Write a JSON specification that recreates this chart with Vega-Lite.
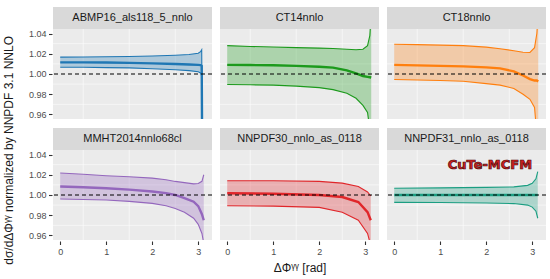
{
  "$schema": "https://vega.github.io/schema/vega-lite/v6.json",
  "padding": {"left": 3, "top": 6, "right": 5, "bottom": 4},
  "background": "white",
  "title": {"text": "dσ/dΔΦᵞᵞ normalized by NNPDF 3.1 NNLO", "orient": "left", "anchor": "middle", "fontSize": 12, "fontWeight": "normal", "color": "#1a1a1a", "offset": 12, "dx": -10},
  "data": {"values": [
    {"pdf":"ABMP16_als118_5_nnlo","x":0,"lo":1.0066,"c":1.0115,"hi":1.0167},
    {"pdf":"ABMP16_als118_5_nnlo","x":0.5,"lo":1.0066,"c":1.0115,"hi":1.0168},
    {"pdf":"ABMP16_als118_5_nnlo","x":1,"lo":1.0063,"c":1.0113,"hi":1.017},
    {"pdf":"ABMP16_als118_5_nnlo","x":1.5,"lo":1.006,"c":1.011,"hi":1.0172},
    {"pdf":"ABMP16_als118_5_nnlo","x":2,"lo":1.0052,"c":1.0105,"hi":1.0178},
    {"pdf":"ABMP16_als118_5_nnlo","x":2.5,"lo":1.0042,"c":1.0098,"hi":1.0185},
    {"pdf":"ABMP16_als118_5_nnlo","x":2.8,"lo":1.0033,"c":1.0093,"hi":1.0192},
    {"pdf":"ABMP16_als118_5_nnlo","x":3.0,"lo":1.0022,"c":1.009,"hi":1.0205},
    {"pdf":"ABMP16_als118_5_nnlo","x":3.05,"lo":1.001,"c":1.0088,"hi":1.022},
    {"pdf":"ABMP16_als118_5_nnlo","x":3.075,"lo":0.998,"c":1.008,"hi":1.024},
    {"pdf":"ABMP16_als118_5_nnlo","x":3.085,"lo":0.90,"c":0.93,"hi":0.96},
    {"pdf":"CT14nnlo","x":0,"lo":0.9896,"c":1.009,"hi":1.028},
    {"pdf":"CT14nnlo","x":0.5,"lo":0.9893,"c":1.0088,"hi":1.0272},
    {"pdf":"CT14nnlo","x":1,"lo":0.989,"c":1.0086,"hi":1.0266},
    {"pdf":"CT14nnlo","x":1.5,"lo":0.988,"c":1.008,"hi":1.026},
    {"pdf":"CT14nnlo","x":2,"lo":0.9865,"c":1.0072,"hi":1.0256},
    {"pdf":"CT14nnlo","x":2.3,"lo":0.9845,"c":1.0063,"hi":1.0252},
    {"pdf":"CT14nnlo","x":2.6,"lo":0.981,"c":1.0035,"hi":1.0245},
    {"pdf":"CT14nnlo","x":2.8,"lo":0.976,"c":1.0005,"hi":1.024},
    {"pdf":"CT14nnlo","x":2.95,"lo":0.969,"c":0.998,"hi":1.0245},
    {"pdf":"CT14nnlo","x":3.05,"lo":0.962,"c":0.9972,"hi":1.028},
    {"pdf":"CT14nnlo","x":3.1,"lo":0.945,"c":0.9968,"hi":1.038},
    {"pdf":"CT14nnlo","x":3.13,"lo":0.92,"c":0.9965,"hi":1.06},
    {"pdf":"CT18nnlo","x":0,"lo":0.9945,"c":1.009,"hi":1.0294},
    {"pdf":"CT18nnlo","x":0.5,"lo":0.994,"c":1.0085,"hi":1.029},
    {"pdf":"CT18nnlo","x":1,"lo":0.9935,"c":1.008,"hi":1.0285},
    {"pdf":"CT18nnlo","x":1.5,"lo":0.9928,"c":1.0075,"hi":1.028},
    {"pdf":"CT18nnlo","x":2,"lo":0.9905,"c":1.0065,"hi":1.0265},
    {"pdf":"CT18nnlo","x":2.3,"lo":0.989,"c":1.0055,"hi":1.025},
    {"pdf":"CT18nnlo","x":2.6,"lo":0.9857,"c":1.0026,"hi":1.023},
    {"pdf":"CT18nnlo","x":2.8,"lo":0.98,"c":0.9985,"hi":1.0215},
    {"pdf":"CT18nnlo","x":2.95,"lo":0.975,"c":0.995,"hi":1.0213},
    {"pdf":"CT18nnlo","x":3.05,"lo":0.967,"c":0.9935,"hi":1.026},
    {"pdf":"CT18nnlo","x":3.1,"lo":0.94,"c":0.9935,"hi":1.04},
    {"pdf":"CT18nnlo","x":3.13,"lo":0.90,"c":0.9925,"hi":1.06},
    {"pdf":"MMHT2014nnlo68cl","x":0,"lo":0.996,"c":1.0084,"hi":1.0217},
    {"pdf":"MMHT2014nnlo68cl","x":0.5,"lo":0.9956,"c":1.0076,"hi":1.0205},
    {"pdf":"MMHT2014nnlo68cl","x":1,"lo":0.995,"c":1.0067,"hi":1.019},
    {"pdf":"MMHT2014nnlo68cl","x":1.5,"lo":0.9937,"c":1.0053,"hi":1.018},
    {"pdf":"MMHT2014nnlo68cl","x":2,"lo":0.9917,"c":1.0034,"hi":1.0167},
    {"pdf":"MMHT2014nnlo68cl","x":2.3,"lo":0.9893,"c":1.0018,"hi":1.015},
    {"pdf":"MMHT2014nnlo68cl","x":2.5,"lo":0.9867,"c":1.0,"hi":1.0134},
    {"pdf":"MMHT2014nnlo68cl","x":2.7,"lo":0.983,"c":0.997,"hi":1.0122},
    {"pdf":"MMHT2014nnlo68cl","x":2.9,"lo":0.977,"c":0.9934,"hi":1.011},
    {"pdf":"MMHT2014nnlo68cl","x":3.0,"lo":0.971,"c":0.989,"hi":1.0113},
    {"pdf":"MMHT2014nnlo68cl","x":3.08,"lo":0.962,"c":0.981,"hi":1.0135},
    {"pdf":"MMHT2014nnlo68cl","x":3.12,"lo":0.952,"c":0.975,"hi":1.02},
    {"pdf":"NNPDF30_nnlo_as_0118","x":0,"lo":0.9894,"c":1.0017,"hi":1.014},
    {"pdf":"NNPDF30_nnlo_as_0118","x":1,"lo":0.989,"c":1.0012,"hi":1.014},
    {"pdf":"NNPDF30_nnlo_as_0118","x":2,"lo":0.9877,"c":1.0,"hi":1.0134},
    {"pdf":"NNPDF30_nnlo_as_0118","x":2.5,"lo":0.983,"c":0.998,"hi":1.0117},
    {"pdf":"NNPDF30_nnlo_as_0118","x":2.85,"lo":0.975,"c":0.993,"hi":1.0084},
    {"pdf":"NNPDF30_nnlo_as_0118","x":3.05,"lo":0.962,"c":0.983,"hi":1.003},
    {"pdf":"NNPDF30_nnlo_as_0118","x":3.12,"lo":0.95,"c":0.975,"hi":0.999},
    {"pdf":"NNPDF31_nnlo_as_0118","x":0,"lo":0.9927,"c":1.0,"hi":1.0067},
    {"pdf":"NNPDF31_nnlo_as_0118","x":1,"lo":0.9925,"c":1.0,"hi":1.007},
    {"pdf":"NNPDF31_nnlo_as_0118","x":2,"lo":0.992,"c":1.0,"hi":1.0075},
    {"pdf":"NNPDF31_nnlo_as_0118","x":2.6,"lo":0.9915,"c":1.0,"hi":1.008},
    {"pdf":"NNPDF31_nnlo_as_0118","x":2.9,"lo":0.99,"c":1.0,"hi":1.0095},
    {"pdf":"NNPDF31_nnlo_as_0118","x":3.0,"lo":0.988,"c":1.0,"hi":1.0115},
    {"pdf":"NNPDF31_nnlo_as_0118","x":3.08,"lo":0.984,"c":1.0,"hi":1.016},
    {"pdf":"NNPDF31_nnlo_as_0118","x":3.12,"lo":0.977,"c":1.0,"hi":1.023}
  ]},
  "transform": [
    {"calculate": "indexof(['ABMP16_als118_5_nnlo','CT14nnlo','CT18nnlo','MMHT2014nnlo68cl','NNPDF30_nnlo_as_0118','NNPDF31_nnlo_as_0118'], datum.pdf)", "as": "idx"},
    {"calculate": "floor(datum.idx / 3)", "as": "prow"},
    {"calculate": "datum.idx % 3", "as": "pcol"}
  ],
  "facet": {
    "row": {"field": "prow", "type": "ordinal", "header": {"title": null, "labels": false}},
    "column": {"field": "pcol", "type": "ordinal", "header": {"title": "ΔΦᵞᵞ [rad]", "titleOrient": "bottom", "labels": false, "titleFontSize": 12, "titleFontWeight": "normal", "titleColor": "#1a1a1a", "titlePadding": -3}}
  },
  "spacing": {"row": 7, "column": 6},
  "spec": {
    "width": 159,
    "height": 112,
    "layer": [
      {
        "transform": [{"aggregate": [{"op": "count", "as": "n"}], "groupby": ["pdf"]}],
        "mark": {"type": "rule", "color": "white", "strokeWidth": 0.55},
        "encoding": {"y": {"datum": 0.97, "type": "quantitative", "title": null, "axis": {"values": [0.96, 0.98, 1.0, 1.02, 1.04], "format": ".2f"}}}
      },
      {
        "transform": [{"aggregate": [{"op": "count", "as": "n"}], "groupby": ["pdf"]}],
        "mark": {"type": "rule", "color": "white", "strokeWidth": 0.55},
        "encoding": {"y": {"datum": 0.99, "type": "quantitative", "title": null, "axis": {"values": [0.96, 0.98, 1.0, 1.02, 1.04], "format": ".2f"}}}
      },
      {
        "transform": [{"aggregate": [{"op": "count", "as": "n"}], "groupby": ["pdf"]}],
        "mark": {"type": "rule", "color": "white", "strokeWidth": 0.55},
        "encoding": {"y": {"datum": 1.01, "type": "quantitative", "title": null, "axis": {"values": [0.96, 0.98, 1.0, 1.02, 1.04], "format": ".2f"}}}
      },
      {
        "transform": [{"aggregate": [{"op": "count", "as": "n"}], "groupby": ["pdf"]}],
        "mark": {"type": "rule", "color": "white", "strokeWidth": 0.55},
        "encoding": {"y": {"datum": 1.03, "type": "quantitative", "title": null, "axis": {"values": [0.96, 0.98, 1.0, 1.02, 1.04], "format": ".2f"}}}
      },
      {
        "transform": [{"aggregate": [{"op": "count", "as": "n"}], "groupby": ["pdf"]}],
        "mark": {"type": "rule", "color": "white", "strokeWidth": 0.55},
        "encoding": {"x": {"datum": 0.5, "type": "quantitative", "title": null, "axis": {"values": [0, 1, 2, 3], "format": "d"}}}
      },
      {
        "transform": [{"aggregate": [{"op": "count", "as": "n"}], "groupby": ["pdf"]}],
        "mark": {"type": "rule", "color": "white", "strokeWidth": 0.55},
        "encoding": {"x": {"datum": 1.5, "type": "quantitative", "title": null, "axis": {"values": [0, 1, 2, 3], "format": "d"}}}
      },
      {
        "transform": [{"aggregate": [{"op": "count", "as": "n"}], "groupby": ["pdf"]}],
        "mark": {"type": "rule", "color": "white", "strokeWidth": 0.55},
        "encoding": {"x": {"datum": 2.5, "type": "quantitative", "title": null, "axis": {"values": [0, 1, 2, 3], "format": "d"}}}
      },
      {
        "mark": {"type": "area", "opacity": 0.3, "clip": true},
        "encoding": {
          "x": {"field": "x", "type": "quantitative", "title": null,
            "scale": {"domain": [-0.157, 3.299], "nice": false, "zero": false},
            "axis": {"values": [0, 1, 2, 3], "format": "d"}},
          "y": {"field": "lo", "type": "quantitative", "title": null,
            "scale": {"domain": [0.9555, 1.0662], "nice": false, "zero": false},
            "axis": {"values": [0.96, 0.98, 1.0, 1.02, 1.04], "format": ".2f"}},
          "y2": {"field": "hi"},
          "color": {"field": "pdf", "type": "nominal", "legend": null,
            "scale": {"domain": ["ABMP16_als118_5_nnlo","CT14nnlo","CT18nnlo","MMHT2014nnlo68cl","NNPDF30_nnlo_as_0118","NNPDF31_nnlo_as_0118"],
              "range": ["#1f77b4", "#1c9a1c", "#ff7f0e", "#9467bd", "#e0262a", "#1b9e82"]}}
        }
      },
      {
        "mark": {"type": "line", "strokeWidth": 1.1, "clip": true},
        "encoding": {
          "x": {"field": "x", "type": "quantitative", "title": null, "axis": {"values": [0, 1, 2, 3], "format": "d"}},
          "y": {"field": "lo", "type": "quantitative", "title": null, "axis": {"values": [0.96, 0.98, 1.0, 1.02, 1.04], "format": ".2f"}},
          "color": {"field": "pdf", "type": "nominal", "legend": null}
        }
      },
      {
        "mark": {"type": "line", "strokeWidth": 1.1, "clip": true},
        "encoding": {
          "x": {"field": "x", "type": "quantitative", "title": null, "axis": {"values": [0, 1, 2, 3], "format": "d"}},
          "y": {"field": "hi", "type": "quantitative", "title": null, "axis": {"values": [0.96, 0.98, 1.0, 1.02, 1.04], "format": ".2f"}},
          "color": {"field": "pdf", "type": "nominal", "legend": null}
        }
      },
      {
        "mark": {"type": "line", "strokeWidth": 2.4, "clip": true},
        "encoding": {
          "x": {"field": "x", "type": "quantitative", "title": null, "axis": {"values": [0, 1, 2, 3], "format": "d"}},
          "y": {"field": "c", "type": "quantitative", "title": null, "axis": {"values": [0.96, 0.98, 1.0, 1.02, 1.04], "format": ".2f"}},
          "color": {"field": "pdf", "type": "nominal", "legend": null}
        }
      },
      {
        "transform": [{"aggregate": [{"op": "count", "as": "n"}], "groupby": ["pdf"]}],
        "mark": {"type": "rule", "color": "black", "strokeWidth": 1.1, "strokeDash": [4, 3]},
        "encoding": {"y": {"datum": 1.0, "type": "quantitative", "title": null, "axis": {"values": [0.96, 0.98, 1.0, 1.02, 1.04], "format": ".2f"}}}
      },
      {
        "transform": [{"aggregate": [{"op": "count", "as": "n"}], "groupby": ["pdf"]}],
        "mark": {"type": "rect", "fill": "#D9D9D9"},
        "encoding": {
          "x": {"datum": -0.157, "type": "quantitative", "title": null, "axis": {"values": [0, 1, 2, 3], "format": "d"}},
          "x2": {"datum": 3.299},
          "y": {"datum": 1.0445, "type": "quantitative", "title": null, "axis": {"values": [0.96, 0.98, 1.0, 1.02, 1.04], "format": ".2f"}},
          "y2": {"datum": 1.0662}
        }
      },
      {
        "transform": [{"aggregate": [{"op": "count", "as": "n"}], "groupby": ["pdf"]}],
        "mark": {"type": "text", "fontSize": 11, "color": "#1a1a1a", "baseline": "middle", "align": "center"},
        "encoding": {
          "x": {"datum": 1.571, "type": "quantitative", "title": null, "axis": {"values": [0, 1, 2, 3], "format": "d"}},
          "y": {"datum": 1.0553, "type": "quantitative", "title": null, "axis": {"values": [0.96, 0.98, 1.0, 1.02, 1.04], "format": ".2f"}},
          "text": {"field": "pdf"}
        }
      },
      {
        "transform": [{"filter": "datum.pdf === 'NNPDF31_nnlo_as_0118'"}, {"aggregate": [{"op": "count", "as": "n"}], "groupby": ["pdf"]}],
        "mark": {"type": "text", "text": "CuTe-MCFM", "font": "DejaVu Sans", "fontWeight": "bold", "fontSize": 13, "fill": "#d42020", "stroke": "#4a0a0a", "strokeWidth": 0.7, "baseline": "middle", "align": "center"},
        "encoding": {
          "x": {"datum": 2.08, "type": "quantitative", "title": null, "axis": {"values": [0, 1, 2, 3], "format": "d"}},
          "y": {"datum": 1.030, "type": "quantitative", "title": null, "axis": {"values": [0.96, 0.98, 1.0, 1.02, 1.04], "format": ".2f"}}
        }
      }
    ]
  },
  "config": {
    "font": "Liberation Sans",
    "view": {"fill": "#EBEBEB", "stroke": null},
    "axis": {"domain": false, "gridColor": "white", "gridWidth": 1.1, "labelColor": "#4D4D4D", "labelFontSize": 9, "tickColor": "#333333", "tickWidth": 1.1, "tickSize": 3.5, "labelPadding": 2.5, "labelOverlap": false}
  }
}
